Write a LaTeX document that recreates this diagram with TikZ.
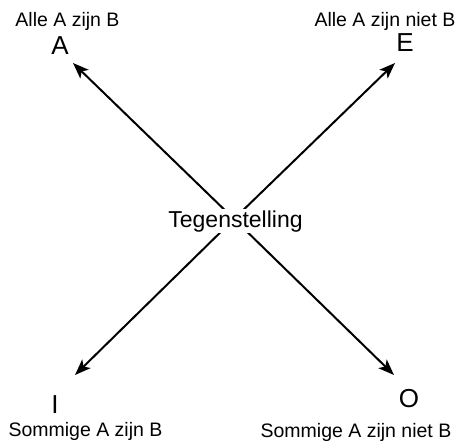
\documentclass[tikz,border=0pt]{standalone}
\usepackage{fontspec}
\setmainfont{Liberation Sans}
\usetikzlibrary{arrows.meta}
\begin{document}
\begin{tikzpicture}[x=1pt,y=-1pt,
  lab/.style={anchor=base,font=\fontsize{19.5}{22}\selectfont,inner sep=0pt},
  letter/.style={anchor=base,font=\fontsize{26}{28}\selectfont,inner sep=0pt},
  arr/.style={line width=2pt,-{Stealth[length=16pt,width=12pt,inset=4pt]}}]
\useasboundingbox (0,0) rectangle (458,441);
\coordinate (c) at (234,219);
\coordinate (ta) at (73,63);
\coordinate (te) at (395,63);
\coordinate (ti) at (75,375);
\coordinate (to) at (394,375);
\draw[arr] (c) -- (ta);
\draw[arr] (c) -- (te);
\draw[arr] (c) -- (ti);
\draw[arr] (c) -- (to);
\node[anchor=base,font=\fontsize{23}{26}\selectfont,fill=white,inner sep=1.5pt] (t) at (235.5,227) {Tegenstelling};
\node[lab] (la) at (67.5,27) {Alle A zijn B};
\node[lab] (le) at (385,27) {Alle A zijn niet B};
\node[letter] (a) at (60,55) {A};
\node[letter] (e) at (405,52) {E};
\node[letter] (i) at (55,413) {I};
\node[letter] (o) at (409,407) {O};
\node[lab] (li) at (85.5,436) {Sommige A zijn B};
\node[lab] (lo) at (356,437) {Sommige A zijn niet B};
\end{tikzpicture}
\end{document}
